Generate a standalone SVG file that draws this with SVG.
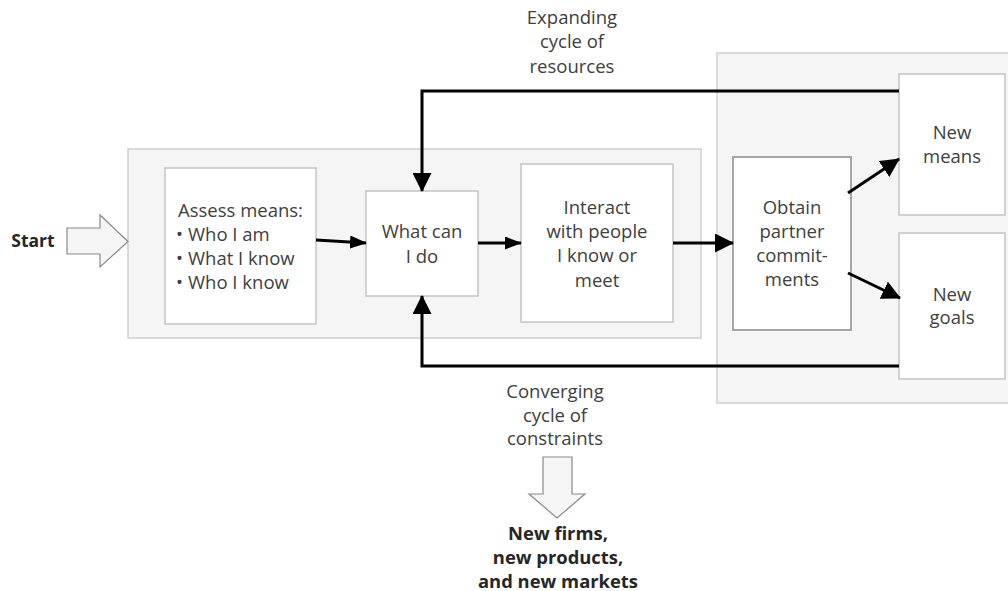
<svg xmlns="http://www.w3.org/2000/svg" width="1008" height="591" viewBox="0 0 1008 591">
<defs>
<style>
.cont{fill:#f5f5f5;stroke:#cfcfcf;stroke-width:1.5}
.box{fill:#ffffff;stroke:#c4c4c4;stroke-width:1.5}
.t{font-family:"Open Sans","Noto Sans",sans-serif;font-size:18.5px;fill:#404040;text-anchor:middle}
.b{font-family:"Open Sans","Noto Sans",sans-serif;font-size:18.4px;font-weight:bold;fill:#262626;text-anchor:middle}
.ln{fill:none;stroke:#000;stroke-width:3}
.blk{fill:#f5f5f5;stroke:#8a8a8a;stroke-width:1.2}
</style>
<marker id="ah" viewBox="0 0 19 19" refX="18" refY="9.5" markerWidth="19" markerHeight="19" markerUnits="userSpaceOnUse" orient="auto">
<path d="M0,0 L19,9.5 L0,19 z" fill="#000"/>
</marker>
<marker id="ahs" viewBox="0 0 17 13" refX="16" refY="6.5" markerWidth="17" markerHeight="13" markerUnits="userSpaceOnUse" orient="auto">
<path d="M0,0 L17,6.5 L0,13 z" fill="#000"/>
</marker>
</defs>
<rect width="1008" height="591" fill="#fff"/>
<g id="containers">
<rect class="cont" x="128" y="149" width="573" height="189"/>
<rect class="cont" x="717" y="53" width="300" height="350"/>
</g>
<g id="start">
<text class="b" x="33" y="247" style="font-size:17.5px">Start</text>
<path class="blk" d="M67,228 L100,228 L100,215 L128,241.5 L100,267 L100,254 L67,254 Z"/>
</g>
<g id="assess">
<rect class="box" x="165" y="168" width="151" height="156"/>
<text font-family="Open Sans, Noto Sans, sans-serif" font-size="18.5" fill="#404040">
<tspan x="178" y="217">Assess means:</tspan>
<tspan x="176" y="241">•</tspan><tspan x="188" y="241">Who I am</tspan>
<tspan x="176" y="265">•</tspan><tspan x="188" y="265">What I know</tspan>
<tspan x="176" y="289">•</tspan><tspan x="188" y="289">Who I know</tspan>
</text>
</g>
<g id="whatcan">
<rect class="box" x="366" y="191" width="112" height="105"/>
<text class="t"><tspan x="422" y="238">What can</tspan><tspan x="422" y="263">I do</tspan></text>
</g>
<g id="interact">
<rect class="box" x="521" y="164" width="152" height="158"/>
<text class="t"><tspan x="597" y="214">Interact</tspan><tspan x="597" y="238">with people</tspan><tspan x="597" y="262">I know or</tspan><tspan x="597" y="287">meet</tspan></text>
</g>
<g id="obtain">
<rect x="733" y="157" width="118" height="173" fill="#fff" stroke="#a6a6a6" stroke-width="2"/>
<text class="t"><tspan x="792" y="214">Obtain</tspan><tspan x="792" y="238">partner</tspan><tspan x="792" y="262">commit-</tspan><tspan x="792" y="286">ments</tspan></text>
</g>
<g id="newmeans">
<rect class="box" x="899" y="74" width="106" height="141"/>
<text class="t"><tspan x="952" y="139">New</tspan><tspan x="952" y="163">means</tspan></text>
</g>
<g id="newgoals">
<rect class="box" x="899" y="233" width="106" height="146"/>
<text class="t"><tspan x="952" y="301">New</tspan><tspan x="952" y="324">goals</tspan></text>
</g>
<g id="labels">
<text class="t"><tspan x="572" y="24">Expanding</tspan><tspan x="572" y="48">cycle of</tspan><tspan x="572" y="73">resources</tspan></text>
<text class="t"><tspan x="555" y="398">Converging</tspan><tspan x="555" y="422">cycle of</tspan><tspan x="555" y="445">constraints</tspan></text>
<path class="blk" d="M543,457 L572,457 L572,494 L585,494 L557,518 L529,494 L543,494 Z"/>
<text class="b"><tspan x="558" y="540">New firms,</tspan><tspan x="558" y="564">new products,</tspan><tspan x="558" y="588">and new markets</tspan></text>
</g>
<g id="connectors">
<path class="ln" d="M899,91 L422,91 L422,191" marker-end="url(#ah)"/>
<path class="ln" d="M899,366 L422,366 L422,296" marker-end="url(#ah)"/>
<path class="ln" d="M316,240 L366,243" stroke-width="2" marker-end="url(#ahs)"/>
<path class="ln" d="M478,243 L521,243" stroke-width="2" marker-end="url(#ahs)"/>
<path class="ln" d="M673,243 L733,243" marker-end="url(#ah)"/>
<path class="ln" d="M848,193 L899,159" marker-end="url(#ah)"/>
<path class="ln" d="M848,273 L900,298" marker-end="url(#ah)"/>
</g>
</svg>
